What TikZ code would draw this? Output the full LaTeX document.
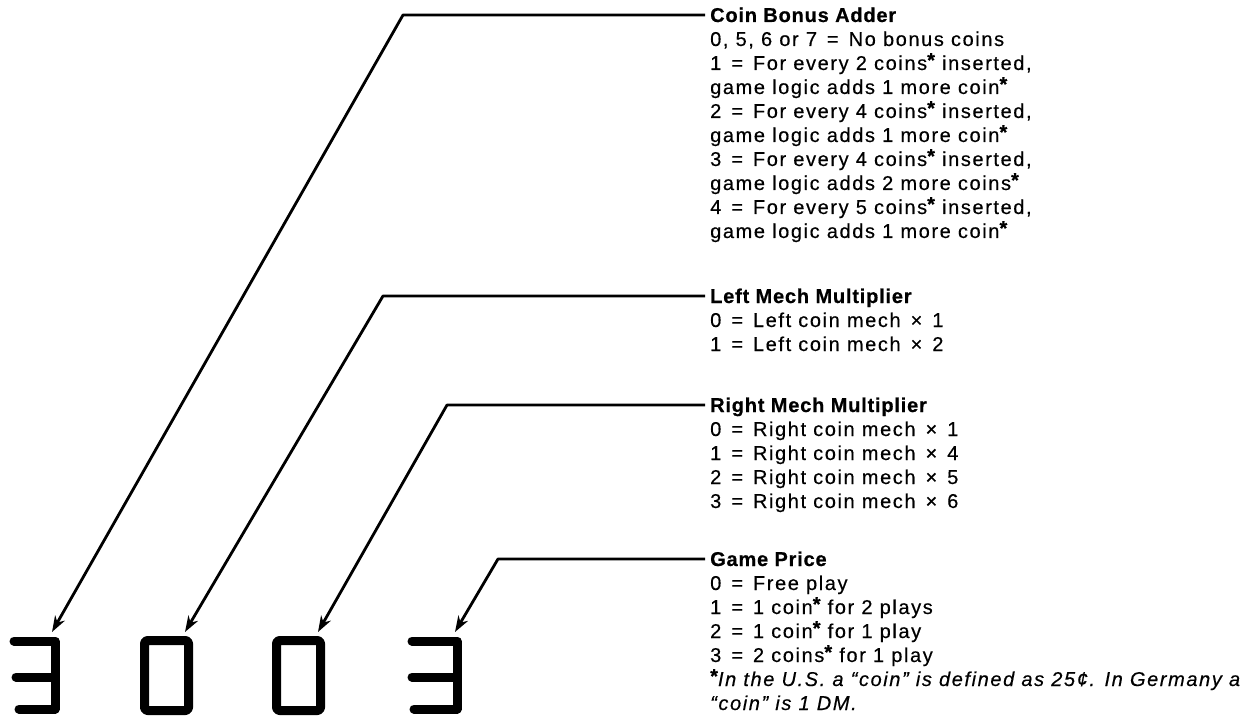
\documentclass[tikz,border=0pt]{standalone}
\usepackage{fontspec}
\setmainfont{Liberation Sans}
\newfontfamily\bodyfont{Liberation Sans}[LetterSpace=8,FakeBold=0.4]
\newfontfamily\headfont{Liberation Sans}[LetterSpace=4,BoldFeatures={FakeBold=0.6}]
\usetikzlibrary{arrows.meta,calc}
\newcommand{\eq}{\hspace{0.5em}=\hspace{0.5em}}
\newcommand{\tm}{\hspace{0.5em}×\hspace{0.5em}}
\newcommand{\st}{{\raisebox{3pt}{\bfseries *}}}
\newcommand{\hd}[1]{{\headfont\bfseries #1}}
\tikzset{
  txt/.style={anchor=base west, inner sep=0pt, font=\fontsize{20}{24}\selectfont\bodyfont},
  leader/.style={line width=2.8pt, line join=round, -{Stealth[length=16pt,width=11pt,inset=5pt]}},
  digit/.style={line width=9pt, line cap=round, line join=round},
}
\begin{document}
\begin{tikzpicture}[x=1pt,y=-1pt]
\useasboundingbox (0,0) rectangle (1254,717);
% text blocks
\node[txt] (coin) at (710,22) {\begin{tabular}[t]{@{}l@{}}
\hd{Coin Bonus Adder}\\
0, 5, 6 or 7\eq No bonus coins\\
1\eq For every 2 coins\st\ inserted,\\
game logic adds 1 more coin\st\\
2\eq For every 4 coins\st\ inserted,\\
game logic adds 1 more coin\st\\
3\eq For every 4 coins\st\ inserted,\\
game logic adds 2 more coins\st\\
4\eq For every 5 coins\st\ inserted,\\
game logic adds 1 more coin\st
\end{tabular}};
\node[txt] (left) at (710,303) {\begin{tabular}[t]{@{}l@{}}
\hd{Left Mech Multiplier}\\
0\eq Left coin mech\tm 1\\
1\eq Left coin mech\tm 2
\end{tabular}};
\node[txt] (right) at (710,412) {\begin{tabular}[t]{@{}l@{}}
\hd{Right Mech Multiplier}\\
0\eq Right coin mech\tm 1\\
1\eq Right coin mech\tm 4\\
2\eq Right coin mech\tm 5\\
3\eq Right coin mech\tm 6
\end{tabular}};
\node[txt] (price) at (710,566) {\begin{tabular}[t]{@{}l@{}}
\hd{Game Price}\\
0\eq Free play\\
1\eq 1 coin\st\ for 2 plays\\
2\eq 1 coin\st\ for 1 play\\
3\eq 2 coins\st\ for 1 play\\
\st{\itshape In the U.S. a “coin” is defined as 25¢. In Germany a}\\
{\itshape “coin” is 1 DM.}
\end{tabular}};
% leader ends, corners and digit targets
\coordinate (h1) at ([xshift=-5pt,yshift=7pt]coin.base west);
\coordinate (h2) at ([xshift=-5pt,yshift=7pt]left.base west);
\coordinate (h3) at ([xshift=-5pt,yshift=7pt]right.base west);
\coordinate (h4) at ([xshift=-5pt,yshift=7pt]price.base west);
\coordinate (k1) at (403,0);
\coordinate (k2) at (383,0);
\coordinate (k3) at (447,0);
\coordinate (k4) at (498,0);
\coordinate (d1) at (52,632);
\coordinate (d2) at (185,632);
\coordinate (d3) at (318,632);
\coordinate (d4) at (455,632);
\draw[leader] (h1) -- (h1 -| k1) -- (d1);
\draw[leader] (h2) -- (h2 -| k2) -- (d2);
\draw[leader] (h3) -- (h3 -| k3) -- (d3);
\draw[leader] (h4) -- (h4 -| k4) -- (d4);
% digits 3 0 0 3
\draw[digit] (14,641) -- (55,641) -- (55,709) -- (19,709);
\draw[digit] (16,677) -- (55,677);
\draw[digit, rounded corners=3pt] (144.5,640.5) rectangle (188.5,710.5);
\draw[digit, rounded corners=3pt] (276.5,640.5) rectangle (320.5,710.5);
\draw[digit] (412,641) -- (457,641) -- (457,709) -- (414,709);
\draw[digit] (412,677) -- (457,677);
\end{tikzpicture}
\end{document}
